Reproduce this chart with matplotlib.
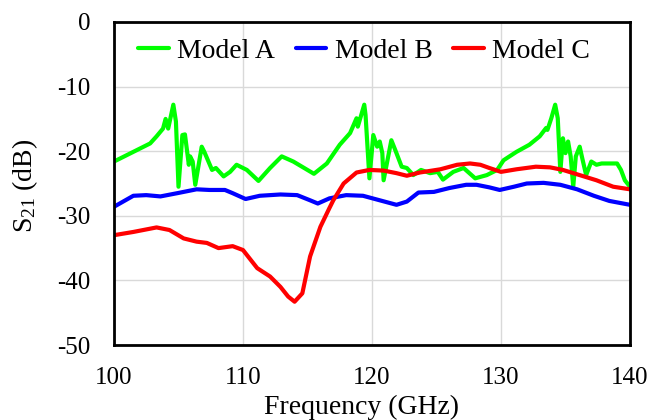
import matplotlib
matplotlib.use("Agg")
import matplotlib.pyplot as plt

freq_a = [100.0, 101.5, 102.8, 103.3, 103.8, 104.0, 104.2, 104.6, 104.8, 105.0, 105.3, 105.5,
          105.8, 105.9, 106.1, 106.3, 106.8, 107.0, 107.6, 107.9, 108.5, 109.0, 109.5, 110.3,
          111.2, 112.1, 113.0, 113.9, 115.5, 116.5, 117.5, 118.3, 118.8, 118.9, 119.4, 119.5,
          119.8, 120.1, 120.4, 120.6, 120.8, 120.9, 121.5, 121.8, 122.3, 122.7, 123.2, 123.8,
          124.5, 125.1, 125.5, 126.3, 127.1, 128.0, 128.9, 129.7, 130.2, 131.2, 132.2, 133.0,
          133.5, 133.6, 133.9, 134.2, 134.4, 134.6, 134.8, 135.0, 135.2, 135.4, 135.6, 135.8,
          136.1, 136.3, 136.6, 137.0, 137.4, 137.8, 138.3, 139.0, 139.3, 139.6, 140.0]
s21_a = [-21.6, -20.1, -18.8, -17.7, -16.5, -15.0, -16.5, -12.8, -15.4, -25.5, -17.5, -17.4,
         -22.1, -20.8, -21.6, -25.2, -19.3, -20.1, -22.9, -22.6, -23.9, -23.2, -22.1, -22.9,
         -24.6, -22.6, -20.8, -21.6, -23.5, -21.9, -19.0, -17.2, -14.9, -16.2, -12.8, -14.4,
         -24.2, -17.5, -19.3, -18.5, -20.3, -24.5, -18.3, -19.8, -22.4, -22.6, -23.7, -22.9,
         -23.4, -23.2, -24.4, -23.2, -22.6, -24.2, -23.7, -22.9, -21.4, -20.1, -19.0, -17.7,
         -16.4, -16.7, -14.9, -12.8, -14.9, -23.2, -18.0, -20.3, -18.5, -20.8, -25.5, -20.8,
         -19.3, -21.1, -23.7, -21.6, -22.1, -21.9, -21.9, -21.9, -22.9, -24.5, -25.5]

freq_b = [100.0, 101.5, 102.5, 103.6, 104.9, 106.4, 107.4, 108.6, 109.2, 110.2, 111.3, 112.9,
          114.2, 115.2, 115.8, 116.7, 118.0, 119.3, 120.6, 121.9, 122.7, 123.6, 124.8, 126.0,
          127.3, 128.1, 129.1, 129.9, 131.0, 132.0, 133.3, 134.6, 135.9, 137.2, 138.4, 140.0]
s21_b = [-28.6, -26.9, -26.8, -27.0, -26.5, -25.9, -26.0, -26.0, -26.5, -27.4, -26.9, -26.7,
         -26.8, -27.6, -28.1, -27.3, -26.8, -26.9, -27.6, -28.3, -27.8, -26.4, -26.3, -25.7,
         -25.2, -25.2, -25.6, -26.0, -25.5, -25.0, -24.9, -25.2, -25.9, -26.9, -27.7, -28.3]

freq_c = [100.0, 101.5, 103.3, 104.3, 105.4, 106.4, 107.2, 108.1, 109.2, 110.0, 111.1, 112.1,
          112.9, 113.5, 114.0, 114.6, 115.2, 116.0, 116.7, 117.0, 117.8, 118.8, 119.8, 120.9,
          121.9, 122.7, 123.7, 125.3, 126.6, 127.6, 128.4, 129.1, 130.0, 131.2, 132.7, 133.8,
          134.8, 136.1, 137.4, 138.7, 140.0]
s21_c = [-33.0, -32.5, -31.8, -32.2, -33.5, -34.0, -34.2, -35.0, -34.7, -35.3, -38.1, -39.4,
         -41.0, -42.5, -43.3, -42.0, -36.3, -31.7, -28.8, -27.6, -25.0, -23.3, -22.9, -23.0,
         -23.4, -23.8, -23.3, -22.8, -22.1, -21.9, -22.1, -22.6, -23.2, -22.8, -22.4, -22.5,
         -22.9, -23.7, -24.5, -25.5, -25.9]

labels = ["Model A", "Model B", "Model C"]
colors = ["#00FF00", "#0000FF", "#FF0000"]
x_ticks = [100, 110, 120, 130, 140]
y_ticks = [0, -10, -20, -30, -40, -50]

plt.rcParams['font.family'] = ['Liberation Serif', 'DejaVu Serif']
plt.rcParams['mathtext.fontset'] = 'custom'
plt.rcParams['mathtext.rm'] = 'Liberation Serif'
plt.rcParams['mathtext.it'] = 'Liberation Serif:italic'
plt.rcParams['axes.unicode_minus'] = False

fig = plt.figure(figsize=(6.51, 4.20), dpi=100)
ax = fig.add_axes([114/651, 1 - 345/420, (630-114)/651, (345-22)/420])

for f, s, lab, c in zip([freq_a, freq_b, freq_c], [s21_a, s21_b, s21_c], labels, colors):
    ax.plot(f, s, color=c, lw=3.0, label=lab, solid_joinstyle='round', solid_capstyle='round')

ax.set_xlim(100, 140)
ax.set_ylim(-50, 0)
ax.set_xticks(x_ticks)
ax.set_yticks(y_ticks)
ax.grid(True, color="#d9d9d9", lw=1.0)
ax.set_axisbelow(True)
for sp in ax.spines.values():
    sp.set_linewidth(2.0)
    sp.set_color("black")
ax.tick_params(axis='both', length=0, labelsize=18)
ax.tick_params(axis='y', pad=17)
ax.tick_params(axis='x', pad=16)

fig.text(361/651, 1 - 407/420, "Frequency (GHz)", ha='center', va='center', fontsize=20)
fig.text(25/651, 1 - 186/420, r"S$_{21}$ (dB)", ha='center', va='center', rotation=90, fontsize=20)

leg = ax.legend(loc='center', bbox_to_anchor=(364/651, 1 - 51/420), bbox_transform=fig.transFigure,
                ncol=3, frameon=False, fontsize=20, handlelength=1.1, handletextpad=0.3,
                columnspacing=0.75, borderpad=0)

fig.savefig("out.png", dpi=100)
